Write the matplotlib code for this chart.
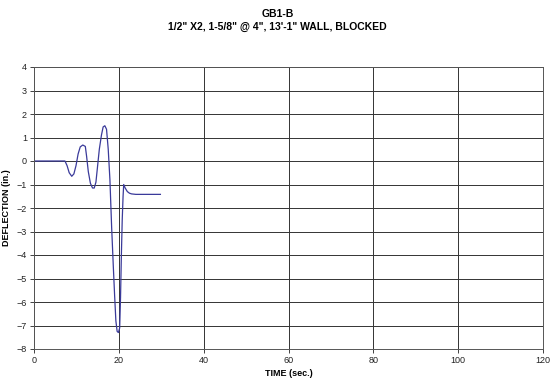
import numpy as np
import matplotlib.pyplot as plt

plt.rcParams['font.family'] = ['Liberation Sans', 'DejaVu Sans']

# time (sec.) and deflection (in.)
time = [0, 1, 2, 3, 4, 5, 6, 7, 7.3, 7.8, 8.3, 8.9, 9.4, 9.9, 10.4, 10.9, 11.5,
        12.1, 12.4, 12.8, 13.3, 13.8, 14.2, 14.6, 15.0, 15.4, 15.9, 16.3, 16.7,
        17.1, 17.5, 17.9, 18.3, 18.7, 19.0, 19.3, 19.6, 19.9, 20.2, 20.4, 20.6,
        20.8, 21.0, 21.15, 21.5, 22.0, 22.5, 23.0, 24.0, 26.0, 28.0, 29.8]
deflection = [0, 0, 0, 0, 0, 0, 0, 0, 0, -0.2, -0.5, -0.65, -0.55, -0.2, 0.3, 0.6, 0.68,
              0.62, 0.2, -0.45, -0.95, -1.15, -1.15, -0.9, -0.2, 0.5, 1.1, 1.45, 1.5,
              1.35, 0.5, -0.8, -2.8, -4.5, -5.7, -6.8, -7.25, -7.3, -7.1, -5.8, -4.0,
              -2.5, -1.5, -1.0, -1.15, -1.3, -1.37, -1.4, -1.42, -1.42, -1.42, -1.42]

title = 'GB1-B\n1/2" X2, 1-5/8" @ 4", 13\'-1" WALL, BLOCKED'

fig, ax = plt.subplots(figsize=(5.55, 3.91), dpi=100)
fig.subplots_adjust(left=34/555, right=543/555, top=1-67/391, bottom=1-349/391)

ax.plot(time, deflection, color='#3a3a9a', lw=0.9)

ax.set_xlim(0, 120)
ax.set_ylim(-8, 4)
ax.set_xticks(range(0, 121, 20))
ax.set_yticks(range(-8, 5, 1))
ax.grid(True, color='#333333', lw=0.7)
ax.set_axisbelow(True)
ax.tick_params(labelsize=6.5, length=3, width=0.6, pad=2, colors='#222222')
for s in ax.spines.values():
    s.set_linewidth(0.7)
    s.set_color('#555555')

ax.set_xlabel('TIME (sec.)', fontsize=6.5, fontweight='bold', labelpad=3)
ax.set_ylabel('DEFLECTION (in.)', fontsize=6.5, fontweight='bold', labelpad=4)
fig.suptitle(title, fontsize=7.5, fontweight='bold', y=0.978, linespacing=1.4)

fig.savefig('out.png', dpi=100)
